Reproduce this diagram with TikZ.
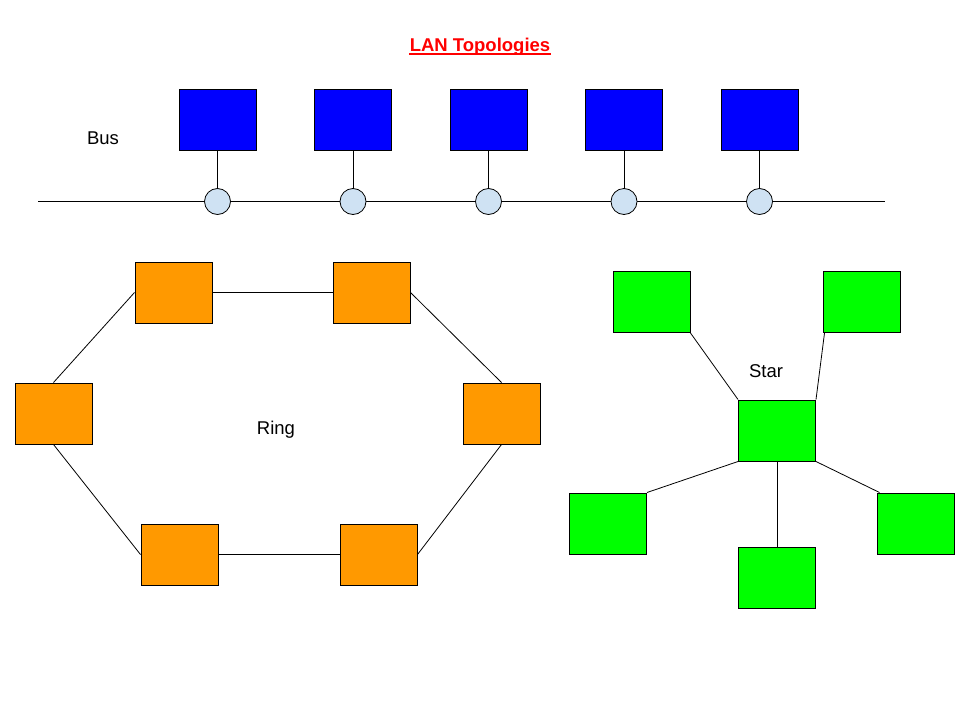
\documentclass[tikz,border=0pt]{standalone}
\usepackage{fontspec}
\setmainfont{Liberation Sans}
\usepackage{tikz}
\usetikzlibrary{positioning}
\definecolor{busblue}{RGB}{0,0,255}
\definecolor{ringorange}{RGB}{255,153,0}
\definecolor{stargreen}{RGB}{0,255,0}
\definecolor{tapfill}{RGB}{207,226,243}
\definecolor{titlered}{RGB}{255,0,0}
\tikzset{
  x=1pt, y=-1pt,
  every node/.style={font=\fontsize{18.5}{22}\selectfont},
  pc/.style={draw, line width=1pt, minimum width=77pt, minimum height=61pt, inner sep=0pt},
  buspc/.style={pc, fill=busblue},
  ringpc/.style={pc, fill=ringorange},
  starpc/.style={pc, fill=stargreen},
  tap/.style={draw, circle, line width=0.8pt, fill=tapfill, minimum size=26pt, inner sep=0pt},
  every path/.style={line width=0.8pt},
}

\begin{document}
\begin{tikzpicture}
      \useasboundingbox (0,0) rectangle (960,720);

      \node[text=titlered, inner sep=0pt, font=\fontsize{18.5}{22}\selectfont\bfseries] (title) at (480,47) {LAN Topologies};
      \draw[titlered, line width=1.6pt] ([yshift=-2.3pt]title.base west) -- ([yshift=-2.3pt]title.base east);

      % bus
      \node (buslabel) at (103,138) {Bus};
      \coordinate (busL) at (38,201);
      \coordinate (busR) at (885,201);
      \draw (busL) -- (busR);
      \node[buspc] (b1) at (217.5,119.5) {};
      \node[buspc] (b2) at (353,119.5)   {};
      \node[buspc] (b3) at (488.5,119.5) {};
      \node[buspc] (b4) at (624,119.5)   {};
      \node[buspc] (b5) at (759.5,119.5) {};
      \node[tap] (t1) at (217.5,201.5) {};
      \node[tap] (t2) at (353,201.5)   {};
      \node[tap] (t3) at (488.5,201.5) {};
      \node[tap] (t4) at (624,201.5)   {};
      \node[tap] (t5) at (759.5,201.5) {};
      \draw (b1) edge (t1)
            (b2) edge (t2)
            (b3) edge (t3)
            (b4) edge (t4)
            (b5) edge (t5);

      % ring
      \node (ringlabel) at (276,430) {Ring};
      \node[ringpc] (r1) at (173.5,292.5) {};
      \node[ringpc] (r2) at (371.5,292.5) {};
      \node[ringpc] (r3) at (501.5,413.5) {};
      \node[ringpc] (r4) at (378.5,554.5) {};
      \node[ringpc] (r5) at (179.5,554.5) {};
      \node[ringpc] (r6) at (53.5,413.5)  {};
      \draw (r6.north) edge (r1.west)
            (r1.east)  edge (r2.west)
            (r2.east)  edge (r3.north)
            (r3.south) edge (r4.east)
            (r4.west)  edge (r5.east)
            (r5.west)  edge (r6.south);

      % star
      \node (starlabel) at (766,371) {Star};
      \node[starpc] (s0) at (777,430.5) {};
      \node[starpc] (s1) at (651.5,302) {};
      \node[starpc] (s2) at (861.5,302) {};
      \node[starpc] (s3) at (608,523.5) {};
      \node[starpc] (s4) at (777,577.5) {};
      \node[starpc] (s5) at (915.5,523.5) {};
      \draw (s0.north west) edge (s1.south east)
            (s0.north east) edge ([xshift=2pt]s2.south west)
            (s0.south west) edge (s3.north east)
            (s0.south)      edge (s4.north)
            (s0.south east) edge ([xshift=3pt]s5.north west);
    \end{tikzpicture}
\end{document}
